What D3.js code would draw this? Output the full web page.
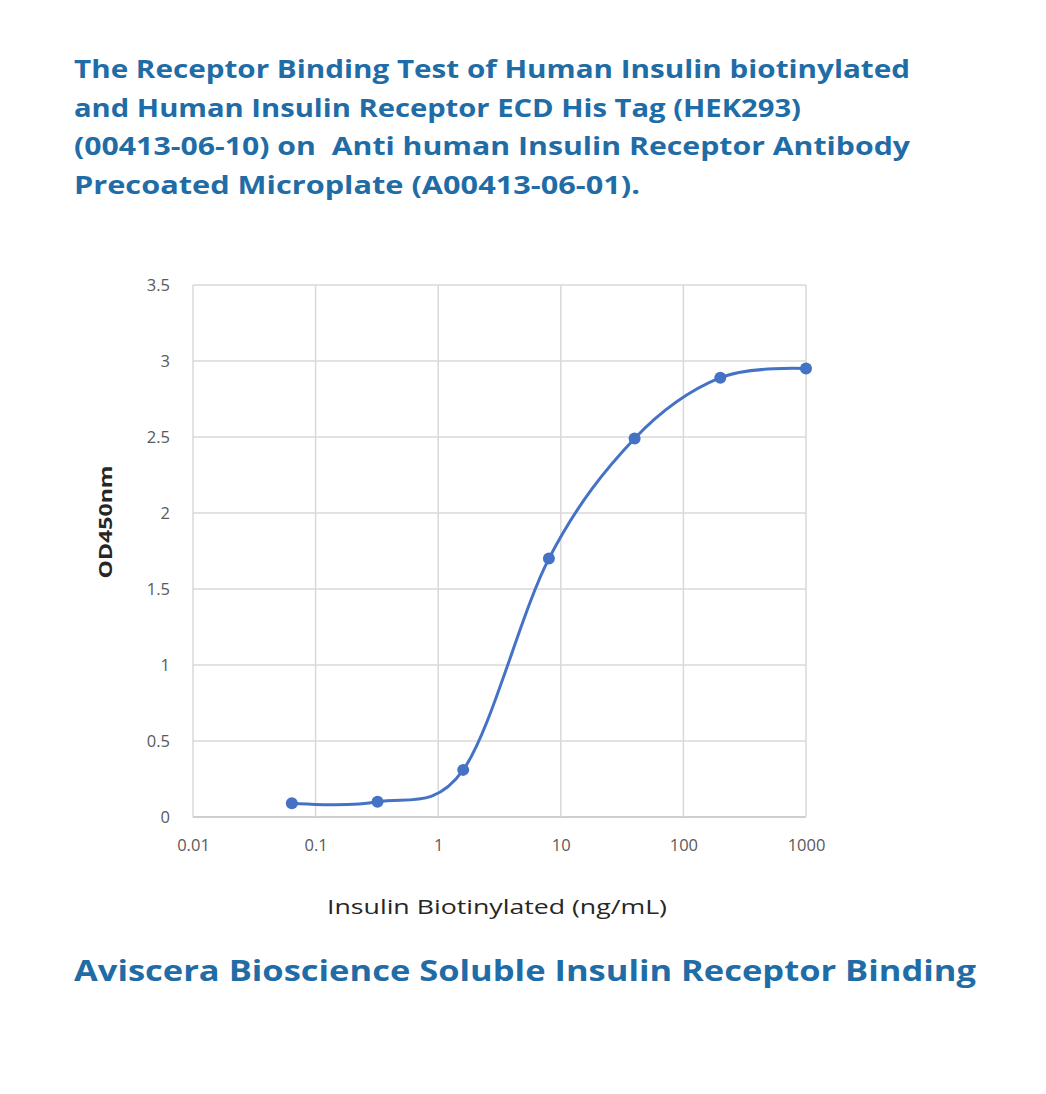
<!DOCTYPE html>
<html>
<head>
<meta charset="utf-8">
<script src="https://cdn.jsdelivr.net/npm/d3@7"></script>
<style>
    body { margin: 0; background: #fff; }
    svg text { font-family: "Open Sans", Lato, sans-serif; white-space: pre; }
</style>
</head>
<body>
<div id="chart"></div>
<script>
const titleLines = [
    "The Receptor Binding Test of Human Insulin biotinylated",
    "and Human Insulin Receptor ECD His Tag (HEK293)",
    "(00413-06-10) on  Anti human Insulin Receptor Antibody",
    "Precoated Microplate (A00413-06-01)."
];
const caption = "Aviscera Bioscience Soluble Insulin Receptor Binding";
const concentrations = [0.064, 0.32, 1.6, 8, 40, 200, 1000];
const odValues = [0.09, 0.10, 0.31, 1.70, 2.49, 2.89, 2.95];
const xTicks = [0.01, 0.1, 1, 10, 100, 1000];
const yTicks = [0, 0.5, 1, 1.5, 2, 2.5, 3, 3.5];
const xTitle = "Insulin Biotinylated (ng/mL)";
const yTitle = "OD450nm";

const width = 1046, height = 1094;
const margin = { top: 285, right: 240, bottom: 277, left: 193 };
const innerW = width - margin.left - margin.right,
      innerH = height - margin.top - margin.bottom;

const svg = d3.select("#chart").append("svg")
    .attr("width", width)
    .attr("height", height);

const titleColor = "#1f6ca6";

svg.append("g").selectAll("text")
    .data(titleLines)
    .enter().append("text")
    .attr("x", 74)
    .attr("y", (d, i) => 78 + i * 38.5)
    .attr("fill", titleColor)
    .attr("font-size", 25)
    .attr("font-weight", 700)
    .attr("textLength", (d, i) => [836, 727, 836, 566][i])
    .attr("lengthAdjust", "spacingAndGlyphs")
    .text(d => d);

svg.append("text")
    .attr("x", 74)
    .attr("y", 981)
    .attr("fill", titleColor)
    .attr("font-size", 28)
    .attr("font-weight", 700)
    .attr("textLength", 902)
    .attr("lengthAdjust", "spacingAndGlyphs")
    .text(caption);

const g = svg.append("g")
    .attr("transform", `translate(${margin.left},${margin.top})`);

const x = d3.scaleLog()
    .domain([0.01, 1000])
    .range([0, innerW]);

const y = d3.scaleLinear()
    .domain([0, 3.5])
    .range([innerH, 0]);

// gridlines
g.append("g")
    .selectAll("line.hgrid")
    .data(yTicks)
    .enter().append("line")
    .attr("class", "hgrid")
    .attr("x1", 0).attr("x2", innerW)
    .attr("y1", d => y(d)).attr("y2", d => y(d))
    .attr("stroke", d => d === 0 ? "#bfbfbf" : "#d9d9d9")
    .attr("stroke-width", 1.5);

g.append("g")
    .selectAll("line.vgrid")
    .data(xTicks)
    .enter().append("line")
    .attr("class", "vgrid")
    .attr("y1", 0).attr("y2", innerH)
    .attr("x1", d => x(d)).attr("x2", d => x(d))
    .attr("stroke", "#d9d9d9")
    .attr("stroke-width", 1.5);

// axes (labels only)
const xAxis = d3.axisBottom(x)
    .tickValues(xTicks)
    .tickFormat(d3.format("~g"))
    .tickSize(0)
    .tickPadding(22);

const yAxis = d3.axisLeft(y)
    .tickValues(yTicks)
    .tickFormat(d3.format("~g"))
    .tickSize(0)
    .tickPadding(23);

g.append("g")
    .attr("transform", `translate(0,${innerH})`)
    .call(xAxis)
    .call(a => a.select(".domain").remove())
    .selectAll("text")
    .attr("font-family", "Open Sans, sans-serif")
    .attr("font-size", 16.5)
    .attr("fill", "#595959");

g.append("g")
    .call(yAxis)
    .call(a => a.select(".domain").remove())
    .selectAll("text")
    .attr("font-family", "Open Sans, sans-serif")
    .attr("font-size", 16.5)
    .attr("fill", "#595959");

// axis titles
svg.append("text")
    .attr("x", 497)
    .attr("y", 914)
    .attr("text-anchor", "middle")
    .attr("font-size", 20)
    .attr("fill", "#262626")
    .attr("textLength", 340)
    .attr("lengthAdjust", "spacingAndGlyphs")
    .text(xTitle);

svg.append("text")
    .attr("transform", "translate(112,522) rotate(-90)")
    .attr("text-anchor", "middle")
    .attr("font-size", 18)
    .attr("font-weight", 700)
    .attr("fill", "#262626")
    .attr("textLength", 113)
    .attr("lengthAdjust", "spacingAndGlyphs")
    .text(yTitle);

// series
const pts = concentrations.map((c, i) => ({ c: c, v: odValues[i] }));

const line = d3.line()
    .x(d => x(d.c))
    .y(d => y(d.v))
    .curve(d3.curveCardinal.tension(0));

g.append("path")
    .datum(pts)
    .attr("d", line)
    .attr("fill", "none")
    .attr("stroke", "#4472c4")
    .attr("stroke-width", 3);

g.selectAll("circle.dot")
    .data(pts)
    .enter().append("circle")
    .attr("class", "dot")
    .attr("cx", d => x(d.c))
    .attr("cy", d => y(d.v))
    .attr("r", 6)
    .attr("fill", "#4472c4");
</script>
</body>
</html>
